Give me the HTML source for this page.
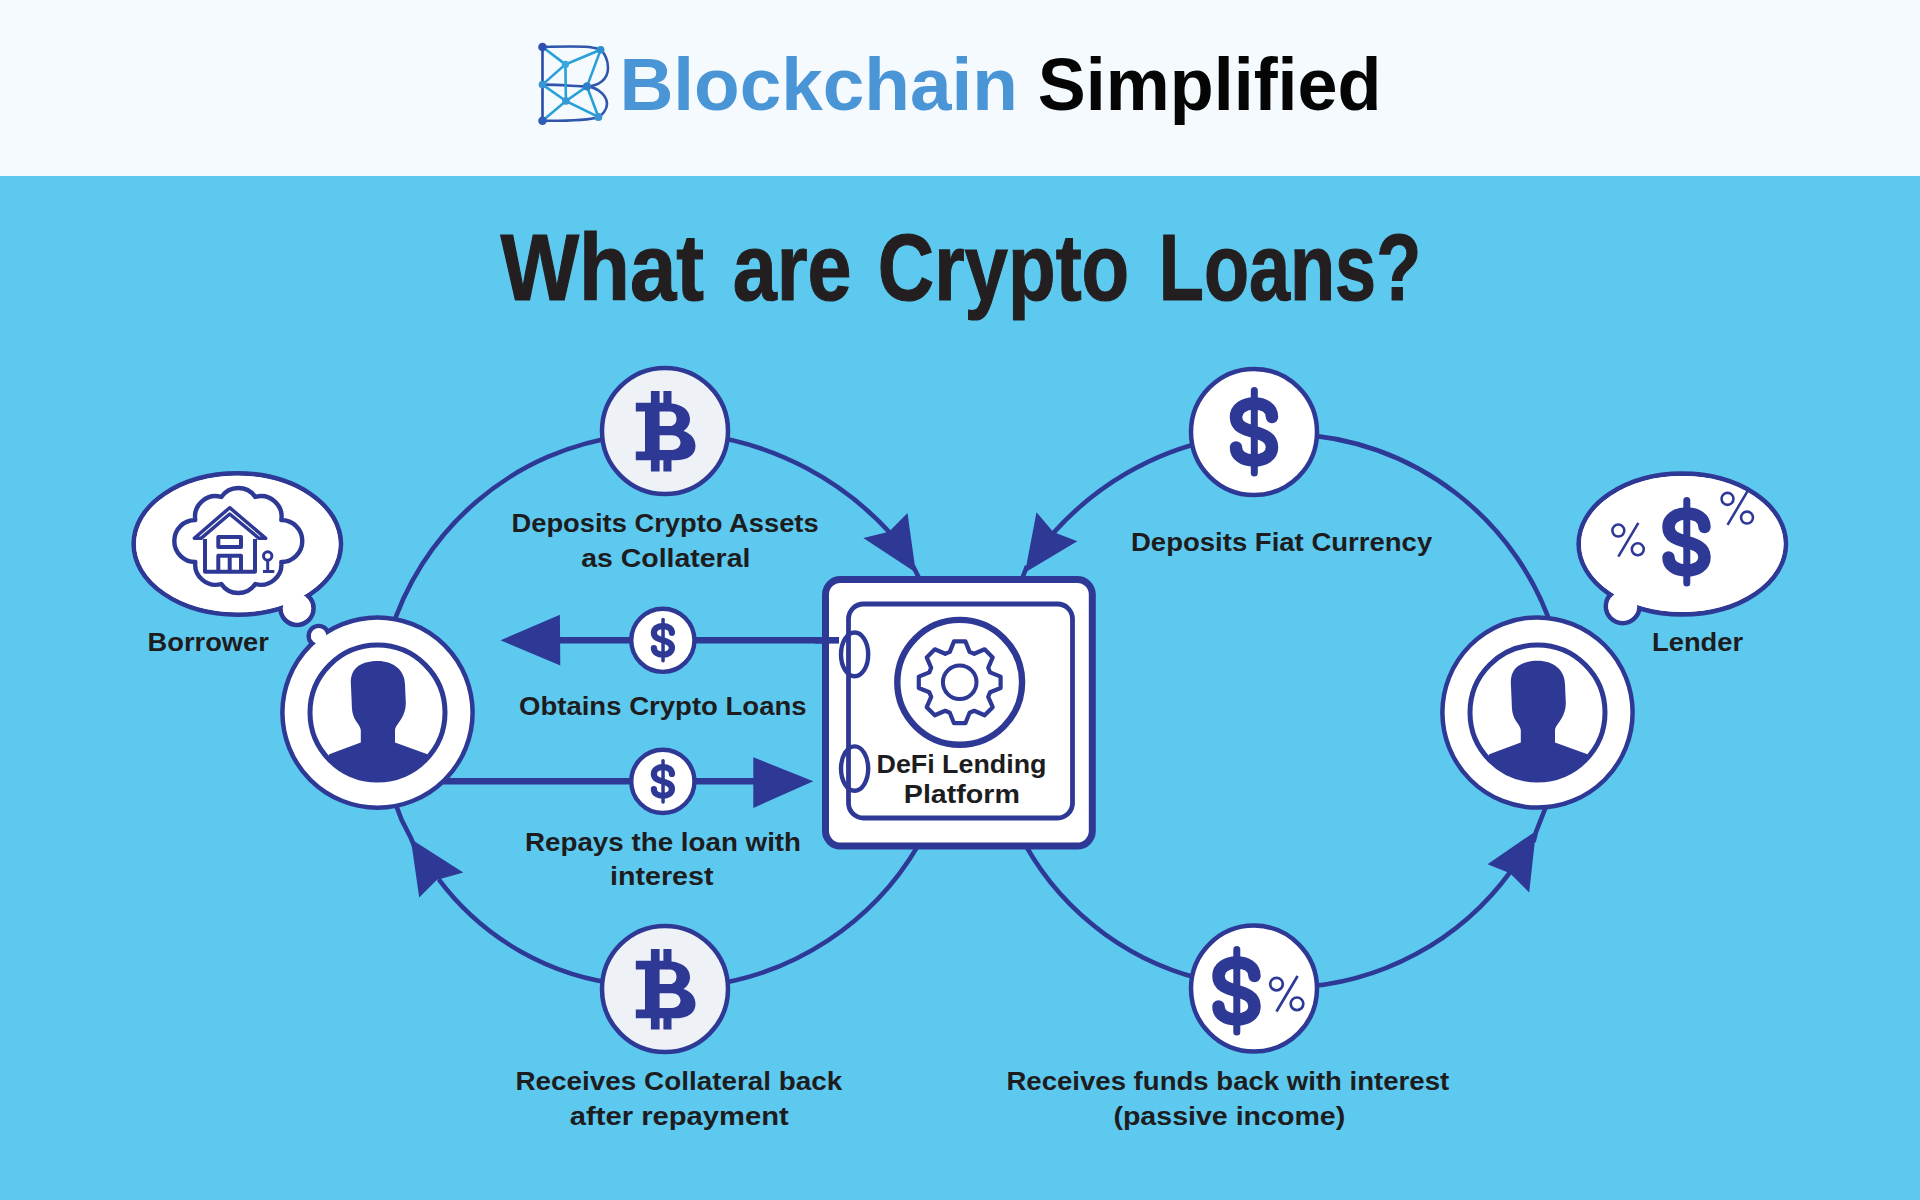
<!DOCTYPE html>
<html><head><meta charset="utf-8"><style>
html,body{margin:0;padding:0;width:1920px;height:1200px;overflow:hidden;background:#5dc9ef;}
svg{display:block;}
text{font-family:"Liberation Sans",sans-serif;font-weight:bold;}
</style></head><body>
<svg width="1920" height="1200" viewBox="0 0 1920 1200">
<rect x="0" y="0" width="1920" height="176" fill="#f4fafd"/>
<rect x="0" y="176" width="1920" height="1024" fill="#5dc9ef"/>

<text x="619.40" y="110" font-size="74.42" textLength="398.44" lengthAdjust="spacingAndGlyphs" fill="#4a95d5">Blockchain</text>
<text x="1037.80" y="110.3" font-size="75.00" textLength="343.76" lengthAdjust="spacingAndGlyphs" fill="#050505">Simplified</text>
<!-- logo icon -->
<g fill="none" stroke-linecap="round" stroke-width="2.6">
<path stroke="#2f55ad" d="M542.5,47 C560,46.5 585,46 592,47.5 C598,48.5 600.7,49.7 600.7,49.7 C606,55 608,63 608,68 C608,80 598,86 587,86.4 C578,86.5 560,84.6 542.5,84.6"/>
<path stroke="#2f55ad" d="M587,86.4 C600,88 607,97 607,104 C607,110 602,115 598.4,117 C590,120 570,121 542.5,120.8"/>
<path stroke="#2a4aa8" d="M542.5,47 V120.8"/>
<path stroke="#2aa0d8" d="M542.5,47 L565.4,64.4 L600.7,49.7 L587,86.4 L598.4,117 L565.9,101 L542.5,120.8 M542.5,84.6 L565.4,64.4 L565.9,101 L587,86.4 M542.5,84.6 L565.9,101"/>
</g>
<g>
<circle cx="542.5" cy="47" r="4.3" fill="#2f4fae"/>
<circle cx="600.7" cy="49.7" r="3.8" fill="#2f8fd0"/>
<circle cx="565.4" cy="64.4" r="3.6" fill="#36a8dc"/>
<circle cx="542.5" cy="84.6" r="3.8" fill="#3597d4"/>
<circle cx="587" cy="86.4" r="4.2" fill="#2f7fc6"/>
<circle cx="565.9" cy="101" r="3.8" fill="#3498d4"/>
<circle cx="542.5" cy="120.8" r="4.3" fill="#2f5cb4"/>
<circle cx="598.4" cy="117" r="4" fill="#3a92d2"/>
</g>

<!-- title -->
<text x="500.40" y="300.2" font-size="94.77" textLength="203.60" lengthAdjust="spacingAndGlyphs" fill="#231f20" stroke="#231f20" stroke-width="1.2">What</text>
<text x="732.80" y="300.2" font-size="94.77" textLength="118.78" lengthAdjust="spacingAndGlyphs" fill="#231f20" stroke="#231f20" stroke-width="1.2">are</text>
<text x="877.80" y="300.2" font-size="94.77" textLength="251.51" lengthAdjust="spacingAndGlyphs" fill="#231f20" stroke="#231f20" stroke-width="1.2">Crypto</text>
<text x="1158.80" y="300.0" font-size="94.77" textLength="262.44" lengthAdjust="spacingAndGlyphs" fill="#231f20" stroke="#231f20" stroke-width="1.2">Loans?</text>

<!-- loops -->
<g fill="none" stroke="#2e3996" stroke-width="4.6">
<path d="M389.24,636.77 A282.75,282.75 0 0 1 624.62,435.72"/>
<path d="M704.45,435.08 A310.19,310.19 0 0 1 890.83,533.69"/>
<path d="M913,566 L919,578"/>
<path d="M918.19,845.36 A288.17,288.17 0 0 1 704.35,985.83"/>
<path d="M625.46,984.78 A266.28,266.28 0 0 1 438.75,879.45"/>
<path d="M415,848 L411,838.3 L401.7,820 L397,807.7 L392,797"/>
<path d="M1214.83,439.25 A298.94,298.94 0 0 0 1053.11,533.34"/>
<path d="M1293.73,434.09 A284.90,284.90 0 0 1 1554.15,634.46"/>
<path d="M1025.33,844.98 A278.83,278.83 0 0 0 1214.97,981.95"/>
<path d="M1293.12,987.60 A282.80,282.80 0 0 0 1511.08,870.81"/>
<path d="M1027,566 L1022,579"/>
<path d="M1533.5,842 L1536,832 L1545.3,808.3 L1548,798"/>
<path d="M560,640.3 H840" stroke-width="6.6"/>
<path d="M440,781.2 H755" stroke-width="6.6"/>
</g>
<g fill="#2e3996">
<polygon points="915.8,572.5 907.5,513.0 889.0,531.7 863.3,538.0"/>
<polygon points="1025.0,572.5 1036.5,512.2 1053.3,532.0 1077.3,541.3"/>
<polygon points="410.8,839.0 419.2,897.5 436.7,880.0 463.3,872.5"/>
<polygon points="1536.0,831.0 1529.2,892.5 1510.0,873.3 1487.5,864.2"/>
<polygon points="500.5,640.2 559.9,614.8 560.1,640.2 560.3,665.6"/>
<polygon points="813.3,781.2 753.3,757.3 753.3,781.2 753.3,808.0"/>
</g>

<!-- coin circles -->
<g stroke="#2e3996" stroke-width="4.5">
<circle cx="665" cy="431" r="63" fill="#eef2f7"/>
<circle cx="665" cy="989" r="63" fill="#eef2f7"/>
<circle cx="1254" cy="432" r="63" fill="#fff"/>
<circle cx="1254" cy="988.6" r="63" fill="#fff"/>
<circle cx="662.85" cy="640.3" r="31.6" fill="#fff" stroke-width="4.4"/>
<circle cx="662.85" cy="781.4" r="31.6" fill="#fff" stroke-width="4.4"/>
</g>
<g fill="#2e3996">
<path transform="translate(665.0,431.0) scale(1.000)" fill-rule="evenodd" d="M-29.2,-28.2 H-14.1 V-40.1 H-5.4 V-28.2 H-1.6 V-40.1 H6.5 V-27.6 C17,-26.5 25,-21 25,-12 C25,-6 22,-2.5 18.5,0 C26,2.5 30.5,8 30.5,15 C30.5,24 23,29.3 10,29.3 H6.5 V40.6 H-1.6 V29.3 H-5.4 V40.6 H-14.1 V29.3 H-29.2 V20.6 H-20 V-19.5 H-29.2 Z M-5.4,-19.5 V-4.9 H5 C9,-4.9 11.5,-8 11.5,-12.2 C11.5,-16.5 9,-19.5 5,-19.5 Z M-5.4,4.3 V19 H7 C12,19 15.5,15.5 15.5,11.6 C15.5,7.5 12,4.3 7,4.3 Z"/>
<path transform="translate(665.0,989.0) scale(1.000)" fill-rule="evenodd" d="M-29.2,-28.2 H-14.1 V-40.1 H-5.4 V-28.2 H-1.6 V-40.1 H6.5 V-27.6 C17,-26.5 25,-21 25,-12 C25,-6 22,-2.5 18.5,0 C26,2.5 30.5,8 30.5,15 C30.5,24 23,29.3 10,29.3 H6.5 V40.6 H-1.6 V29.3 H-5.4 V40.6 H-14.1 V29.3 H-29.2 V20.6 H-20 V-19.5 H-29.2 Z M-5.4,-19.5 V-4.9 H5 C9,-4.9 11.5,-8 11.5,-12.2 C11.5,-16.5 9,-19.5 5,-19.5 Z M-5.4,4.3 V19 H7 C12,19 15.5,15.5 15.5,11.6 C15.5,7.5 12,4.3 7,4.3 Z"/>
</g>
<g transform="translate(1254.0,432.0) scale(1.000)" fill="none" stroke="#2e3996" stroke-linecap="round"><path d="M18,-15 C18,-24 10,-28.5 0,-28.5 C-10,-28.5 -18,-23.5 -18,-15 C-18,-5 -9,-2.5 0,0 C9,2.5 18,5.5 18,15 C18,24 10,28.5 0,28.5 C-10,28.5 -18,24 -18,15.5" stroke-width="12.5"/><path d="M0.3,-41.5 V41" stroke-width="7"/></g>
<g transform="translate(662.9,640.3) scale(0.500)" fill="none" stroke="#2e3996" stroke-linecap="round"><path d="M18,-15 C18,-24 10,-28.5 0,-28.5 C-10,-28.5 -18,-23.5 -18,-15 C-18,-5 -9,-2.5 0,0 C9,2.5 18,5.5 18,15 C18,24 10,28.5 0,28.5 C-10,28.5 -18,24 -18,15.5" stroke-width="12.5"/><path d="M0.3,-41.5 V41" stroke-width="7"/></g>
<g transform="translate(662.9,781.4) scale(0.500)" fill="none" stroke="#2e3996" stroke-linecap="round"><path d="M18,-15 C18,-24 10,-28.5 0,-28.5 C-10,-28.5 -18,-23.5 -18,-15 C-18,-5 -9,-2.5 0,0 C9,2.5 18,5.5 18,15 C18,24 10,28.5 0,28.5 C-10,28.5 -18,24 -18,15.5" stroke-width="12.5"/><path d="M0.3,-41.5 V41" stroke-width="7"/></g>
<g transform="translate(1236.5,991.0) scale(1.000)" fill="none" stroke="#2e3996" stroke-linecap="round"><path d="M18,-15 C18,-24 10,-28.5 0,-28.5 C-10,-28.5 -18,-23.5 -18,-15 C-18,-5 -9,-2.5 0,0 C9,2.5 18,5.5 18,15 C18,24 10,28.5 0,28.5 C-10,28.5 -18,24 -18,15.5" stroke-width="12.5"/><path d="M0.3,-41.5 V41" stroke-width="7"/></g>
<g transform="translate(1287.0,993.5) scale(1.000)" fill="none" stroke="#2e3996" stroke-width="2.7"><circle cx="-10.5" cy="-9.4" r="6.3"/><circle cx="10" cy="10.3" r="6.3"/><path d="M10.6,-17.5 L-10.5,18"/></g>

<!-- thought bubbles -->
<g fill="#fff" stroke="#2e3996" stroke-width="4.7">
<circle cx="297" cy="608.3" r="16.5"/>
<ellipse cx="237.3" cy="544" rx="103.6" ry="70.6"/>
<circle cx="1622.7" cy="606.3" r="16.8"/>
<ellipse cx="1682.3" cy="544" rx="103.6" ry="70.3"/>
</g>
<g fill="#fff">
<circle cx="297" cy="608.3" r="14.2"/>
<circle cx="1622.7" cy="606.3" r="14.5"/>
<ellipse cx="237.3" cy="544" rx="101.3" ry="68.3"/>
<ellipse cx="1682.3" cy="544" rx="101.3" ry="68"/>
</g>
<!-- house cloud -->
<g fill="none" stroke="#2e3996" stroke-width="4" stroke-linejoin="round">
<path d="M195.3,520.0 A20.5,20.5 0 0 1 221.3,497.0 A20.5,20.5 0 0 1 255.3,497.0 A20.5,20.5 0 0 1 281.3,520.0 A20.5,20.5 0 0 1 281.3,562.0 A20.5,20.5 0 0 1 255.3,584.0 A20.5,20.5 0 0 1 221.3,584.0 A20.5,20.5 0 0 1 195.3,562.0 A20.5,20.5 0 0 1 195.3,520.0 Z" stroke-width="4.4"/>
<path d="M194.3,538.3 L229.7,507.7 L265.7,538.3 L259,538.3 L229.7,514 L201,538.3 Z" stroke-width="3.5"/>
<path d="M205,539 V571.7 H255 V539"/>
<rect x="218.3" y="537" width="22.7" height="10"/>
<path d="M218.3,571 V555.7 H241 V571 M229.7,556 V571"/>
<circle cx="267.7" cy="556" r="4.2" stroke-width="3"/>
<path d="M267.7,560 V571 M263,571.5 H274.3" stroke-width="3"/>
</g>
<!-- lender bubble content -->
<g transform="translate(1686.5,542.0) scale(1.000)" fill="none" stroke="#2e3996" stroke-linecap="round"><path d="M18,-15 C18,-24 10,-28.5 0,-28.5 C-10,-28.5 -18,-23.5 -18,-15 C-18,-5 -9,-2.5 0,0 C9,2.5 18,5.5 18,15 C18,24 10,28.5 0,28.5 C-10,28.5 -18,24 -18,15.5" stroke-width="12.5"/><path d="M0.3,-41.5 V41" stroke-width="7"/></g>
<g transform="translate(1628.3,539.5) scale(0.950)" fill="none" stroke="#2e3996" stroke-width="2.7"><circle cx="-10.5" cy="-9.4" r="6.3"/><circle cx="10" cy="10.3" r="6.3"/><path d="M10.6,-17.5 L-10.5,18"/></g>
<g transform="translate(1737.5,507.8) scale(0.950)" fill="none" stroke="#2e3996" stroke-width="2.7"><circle cx="-10.5" cy="-9.4" r="6.3"/><circle cx="10" cy="10.3" r="6.3"/><path d="M10.6,-17.5 L-10.5,18"/></g>

<!-- persons -->
<g fill="#fff" stroke="#2e3996" stroke-width="4.5"><circle cx="318.7" cy="636" r="10"/></g>
<g transform="translate(377.5,712.6)">
<circle r="95.1" fill="#fff" stroke="#2e3996" stroke-width="4.5"/>
<clipPath id="pc377"><circle r="67"/></clipPath>
<path clip-path="url(#pc377)" fill="#2e3996" d="M0.5,-51.7 C15,-51.7 27.5,-43 27.5,-28 L28.3,-10 C28.3,-3 26.7,1 24,6 C21,11 17.5,14 17.5,18 L17.5,30 L50,41.7 L60,90 L-60,90 L-48.3,41.7 L-16.7,30 L-16.7,18 C-16.7,14 -21,10 -23,6 C-25,2 -25.8,-3 -25.8,-10 L-26.7,-30 C-26.7,-46 -15,-51.7 0.5,-51.7 Z"/>
<circle r="67.5" fill="none" stroke="#2e3996" stroke-width="5"/>
</g>
<g fill="#fff"><circle cx="318.7" cy="636" r="7.7"/></g>
<g transform="translate(1537.5,712.5)">
<circle r="95.1" fill="#fff" stroke="#2e3996" stroke-width="4.5"/>
<clipPath id="pc1537"><circle r="67"/></clipPath>
<path clip-path="url(#pc1537)" fill="#2e3996" d="M0.5,-51.7 C15,-51.7 27.5,-43 27.5,-28 L28.3,-10 C28.3,-3 26.7,1 24,6 C21,11 17.5,14 17.5,18 L17.5,30 L50,41.7 L60,90 L-60,90 L-48.3,41.7 L-16.7,30 L-16.7,18 C-16.7,14 -21,10 -23,6 C-25,2 -25.8,-3 -25.8,-10 L-26.7,-30 C-26.7,-46 -15,-51.7 0.5,-51.7 Z"/>
<circle r="67.5" fill="none" stroke="#2e3996" stroke-width="5"/>
</g>

<!-- safe -->
<g fill="#fff" stroke="#2e3996">
<rect x="825.5" y="579.5" width="266.8" height="266.6" rx="15" stroke-width="7"/>
<rect x="848.5" y="604" width="224" height="214" rx="15" stroke-width="4.8"/>
</g>
<g fill="none" stroke="#2e3996" stroke-width="4">
<ellipse cx="854.6" cy="654.4" rx="13.6" ry="21.9" stroke-width="4.4"/>
<ellipse cx="854.6" cy="768.6" rx="13.6" ry="22.2" stroke-width="4.4"/>
<path d="M815,640.3 H839" stroke-width="6.6"/>
<circle cx="959.7" cy="682.3" r="62.4" stroke-width="6.4"/>
<circle cx="959.7" cy="682.3" r="16.8" stroke-width="4"/>
<path id="gear" stroke-width="4.2" stroke-linejoin="round" d="M949.8,651.9 L954.0,641.4 L965.4,641.4 L969.6,651.9 L974.2,653.8 L984.6,649.3 L992.7,657.4 L988.2,667.8 L990.1,672.4 L1000.6,676.6 L1000.6,688.0 L990.1,692.2 L988.2,696.8 L992.7,707.2 L984.6,715.3 L974.2,710.8 L969.6,712.7 L965.4,723.2 L954.0,723.2 L949.8,712.7 L945.2,710.8 L934.8,715.3 L926.7,707.2 L931.2,696.8 L929.3,692.2 L918.8,688.0 L918.8,676.6 L929.3,672.4 L931.2,667.8 L926.7,657.4 L934.8,649.3 L945.2,653.8 Z"/>
</g>

<!-- labels -->
<text x="511.50" y="532.3" font-size="25.73" textLength="307.14" lengthAdjust="spacingAndGlyphs" fill="#1d1d1f">Deposits Crypto Assets</text>
<text x="581.20" y="567" font-size="25.73" textLength="169.26" lengthAdjust="spacingAndGlyphs" fill="#1d1d1f">as Collateral</text>
<text x="1131.00" y="551.3" font-size="25.73" textLength="301.22" lengthAdjust="spacingAndGlyphs" fill="#1d1d1f">Deposits Fiat Currency</text>
<text x="519.00" y="714.7" font-size="25.73" textLength="287.63" lengthAdjust="spacingAndGlyphs" fill="#1d1d1f">Obtains Crypto Loans</text>
<text x="525.00" y="850.7" font-size="25.73" textLength="276.06" lengthAdjust="spacingAndGlyphs" fill="#1d1d1f">Repays the loan with</text>
<text x="610.00" y="884.9" font-size="25.73" textLength="103.45" lengthAdjust="spacingAndGlyphs" fill="#1d1d1f">interest</text>
<text x="515.50" y="1090" font-size="25.73" textLength="326.71" lengthAdjust="spacingAndGlyphs" fill="#1d1d1f">Receives Collateral back</text>
<text x="569.80" y="1124.7" font-size="25.73" textLength="219.01" lengthAdjust="spacingAndGlyphs" fill="#1d1d1f">after repayment</text>
<text x="1006.40" y="1090" font-size="25.73" textLength="442.81" lengthAdjust="spacingAndGlyphs" fill="#1d1d1f">Receives funds back with interest</text>
<text x="1113.40" y="1124.5" font-size="25.73" textLength="231.84" lengthAdjust="spacingAndGlyphs" fill="#1d1d1f">(passive income)</text>
<text x="876.50" y="772.8" font-size="25.73" textLength="170.00" lengthAdjust="spacingAndGlyphs" fill="#1d1d1f">DeFi Lending</text>
<text x="903.80" y="803" font-size="25.73" textLength="116.12" lengthAdjust="spacingAndGlyphs" fill="#1d1d1f">Platform</text>
<text x="147.60" y="651" font-size="26.16" textLength="121.24" lengthAdjust="spacingAndGlyphs" fill="#1d1d1f">Borrower</text>
<text x="1652.00" y="651" font-size="26.16" textLength="91.08" lengthAdjust="spacingAndGlyphs" fill="#1d1d1f">Lender</text>
</svg>
</body></html>
